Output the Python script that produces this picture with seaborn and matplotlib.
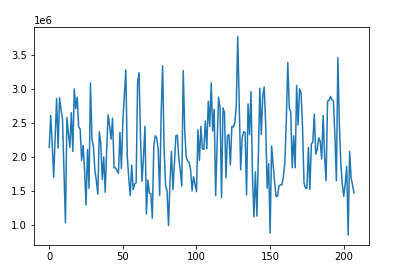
import matplotlib
matplotlib.use("Agg")
import matplotlib.pyplot as plt
import seaborn as sns
import numpy as np
import pandas as pd

# values in millions
values_m = [
    2.14, 2.61, 2.20, 1.70, 2.30, 2.86, 2.13, 2.87, 2.70, 2.56,
    1.80, 1.03, 2.58, 2.35, 2.14, 2.65, 2.08, 3.00, 2.71, 2.88,
    2.44, 2.41, 1.95, 2.17, 1.81, 1.29, 2.11, 1.54, 3.09, 2.26,
    2.15, 1.80, 1.65, 1.45, 2.37, 2.20, 1.67, 2.00, 1.48, 2.10,
    2.62, 2.46, 2.26, 2.57, 1.84, 1.84, 1.80, 1.76, 2.36, 1.83,
    2.53, 2.90, 3.28, 2.01, 1.69, 1.43, 1.88, 1.52, 1.60, 1.62,
    3.09, 3.24, 2.26, 1.64, 2.00, 2.45, 1.16, 1.66, 1.47, 1.46,
    1.10, 2.16, 2.31, 2.28, 2.11, 1.43, 2.64, 3.34, 2.13, 1.58,
    1.50, 0.99, 1.64, 2.08, 1.52, 1.90, 2.31, 2.32, 1.97, 1.80,
    1.57, 3.27, 2.39, 2.00, 1.94, 1.92, 1.81, 1.50, 1.71, 1.60,
    1.49, 2.40, 1.95, 2.45, 2.12, 2.11, 2.53, 2.12, 2.82, 2.45,
    3.09, 2.38, 2.70, 1.43, 2.20, 2.88, 2.72, 1.40, 2.72, 2.65,
    1.69, 2.31, 2.33, 1.88, 2.45, 2.44, 2.50, 2.74, 3.77, 2.78,
    1.81, 2.28, 2.37, 2.36, 1.44, 2.78, 2.33, 2.96, 1.74, 1.12,
    1.78, 1.13, 2.00, 3.01, 2.33, 2.90, 3.03, 2.46, 1.54, 1.90,
    0.88, 2.16, 1.90, 1.64, 1.42, 1.42, 1.57, 1.59, 1.59, 1.71,
    1.92, 2.53, 3.39, 2.72, 2.66, 1.84, 2.31, 1.84, 3.05, 2.47,
    3.00, 2.95, 2.45, 1.62, 1.54, 1.54, 2.14, 1.52, 2.19, 2.22,
    2.63, 2.04, 2.11, 2.28, 2.23, 1.97, 2.61, 2.00, 1.65, 2.82,
    2.83, 2.89, 2.84, 2.82, 2.30, 1.65, 3.46, 2.50, 1.90, 1.60,
    1.42, 1.60, 1.86, 0.85, 2.08, 1.69, 1.58, 1.47,
]
index = list(range(len(values_m)))

df = pd.DataFrame({"index": index, "value": np.array(values_m) * 1e6})

W, H, DPI = 406, 275, 72
fig = plt.figure(figsize=(W / DPI, H / DPI), dpi=DPI)
ax = fig.add_axes([34 / W, 30 / H, 335.3 / W, 218.3 / H])
sns.lineplot(data=df, x="index", y="value", ax=ax, color="#1f77b4", linewidth=1.5)
ax.set_xlabel("")
ax.set_ylabel("")
ax.set_xticks([0, 50, 100, 150, 200])
fig.savefig("out.png", dpi=DPI)
